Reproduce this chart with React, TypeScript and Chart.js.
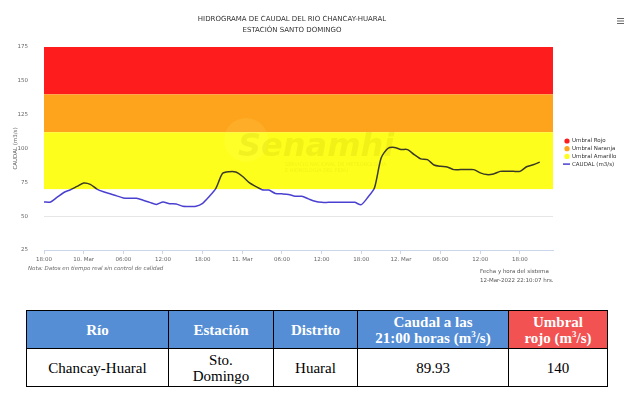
import React, { useEffect, useRef } from 'react';
import { Chart, registerables } from 'chart.js';

Chart.register(...registerables);

// Hour offsets from 9-Mar 18:00 (hourly readings up to 12-Mar 21:00)
const hourOffsets: number[] = [
  0, 1, 2, 3, 4, 5, 6, 7, 8, 9, 10, 11, 12, 13, 14, 15, 16, 17, 18, 19,
  20, 21, 22, 23, 24, 25, 26, 27, 28, 29, 30, 31, 32, 33, 34, 35, 36, 37, 38, 39,
  40, 41, 42, 43, 44, 45, 46, 47, 48, 49, 50, 51, 52, 53, 54, 55, 56, 57, 58, 59,
  60, 61, 62, 63, 64, 65, 66, 67, 68, 69, 70, 71, 72, 73, 74, 75,
];

const caudal: number[] = [
  60.5, 60.5, 64, 67.5, 69.5, 72, 74.5, 73.5, 70, 68,
  66.6, 65, 63.5, 63.3, 63.2, 61.8, 60.2, 58.7, 60.5, 59.2,
  59, 57.3, 57.2, 57.3, 59.5, 64.5, 70.5, 81.5, 82.8, 82.6,
  79.5, 75, 72, 69.5, 69.3, 66.8, 66.5, 66, 64.7, 64.7,
  62.8, 61, 60.2, 60.2, 60.2, 60.2, 60.2, 60.2, 58.5, 64,
  71, 93, 100, 100.8, 99.3, 99.2, 95.5, 92.3, 91.8, 87.8,
  86.8, 86.4, 84.4, 84.4, 84.4, 84.4, 82, 80.7, 81.2, 83.1,
  83.1, 83.1, 83.1, 86.5, 88, 89.93,
];

const xTickPositions: number[] = [0, 6, 12, 18, 24, 30, 36, 42, 48, 54, 60, 66, 72];
const xTickLabels: string[] = [
  '18:00', '10. Mar', '06:00', '12:00', '18:00', '11. Mar', '06:00', '12:00',
  '18:00', '12. Mar', '06:00', '12:00', '18:00',
];
const xMin = 0;
const xMax = 77;

const yTicks: number[] = [25, 50, 75, 100, 125, 150, 175];

const bandNames: string[] = ['Umbral Rojo', 'Umbral Naranja', 'Umbral Amarillo'];
const bandLower: number[] = [140, 112, 70];
const bandUpper: number[] = [175, 140, 112];
const bandColors: string[] = ['#fe1c1c', '#fea41c', '#fefe1c'];

const seriesName = 'CAUDAL (m3/s)';
const lineBlue = '#4a40d0';
const lineDark = '#3a3a26';

const titleLines: string[] = ['HIDROGRAMA DE CAUDAL DEL RIO CHANCAY-HUARAL', 'ESTACIÓN SANTO DOMINGO'];

const tableHeaders: string[] = ['Río', 'Estación', 'Distrito', 'Caudal a las 21:00 horas', 'Umbral rojo'];
const tableRow: string[] = ['Chancay-Huaral', 'Sto. Domingo', 'Huaral', '89.93', '140'];

const FONT = '"DejaVu Sans", Verdana, sans-serif';

const bandsPlugin = {
  id: 'bands',
  beforeDatasetsDraw(chart: any) {
    const { ctx, chartArea, scales } = chart;
    const y = scales.y;
    ctx.save();
    for (let i = 0; i < bandLower.length; i++) {
      const top = y.getPixelForValue(bandUpper[i]);
      const bot = y.getPixelForValue(bandLower[i]);
      ctx.fillStyle = bandColors[i];
      ctx.fillRect(chartArea.left, top, chartArea.right - chartArea.left, bot - top);
    }
    // watermark
    ctx.beginPath();
    ctx.arc(246, 140, 22, 0, Math.PI * 2);
    ctx.fillStyle = 'rgba(255,255,150,0.10)';
    ctx.fill();
    ctx.fillStyle = 'rgba(170,170,0,0.15)';
    ctx.font = 'italic bold 32px "DejaVu Sans", sans-serif';
    ctx.textBaseline = 'alphabetic';
    ctx.textAlign = 'left';
    ctx.fillText('Senamhi', 238, 156);
    ctx.font = '5px "DejaVu Sans", sans-serif';
    ctx.fillText('SERVICIO NACIONAL DE METEOROLOGÍA', 285, 166);
    ctx.fillText('E HIDROLOGÍA DEL PERÚ', 285, 172);
    ctx.restore();
  },
};

const decorPlugin = {
  id: 'decor',
  afterDraw(chart: any) {
    const { ctx } = chart;
    ctx.save();
    // title
    ctx.fillStyle = '#333333';
    ctx.font = `7px ${FONT}`;
    ctx.textAlign = 'center';
    ctx.textBaseline = 'middle';
    ctx.fillText(titleLines[0], 292, 19);
    ctx.fillText(titleLines[1], 292, 30);
    // legend
    ctx.textAlign = 'left';
    ctx.font = `5.5px ${FONT}`;
    const lx = 567;
    const ly = 141;
    const step = 7.7;
    for (let i = 0; i < bandNames.length; i++) {
      ctx.beginPath();
      ctx.arc(lx, ly + i * step, 2.6, 0, Math.PI * 2);
      ctx.fillStyle = bandColors[i];
      ctx.fill();
      ctx.fillStyle = '#333333';
      ctx.fillText(bandNames[i], lx + 5, ly + i * step);
    }
    ctx.strokeStyle = lineBlue;
    ctx.lineWidth = 1.5;
    ctx.beginPath();
    ctx.moveTo(lx - 4, ly + 3 * step);
    ctx.lineTo(lx + 3, ly + 3 * step);
    ctx.stroke();
    ctx.fillStyle = '#333333';
    ctx.fillText(seriesName, lx + 5, ly + 3 * step);
    // menu icon
    ctx.strokeStyle = '#666666';
    ctx.lineWidth = 1;
    for (let k = 0; k < 3; k++) {
      ctx.beginPath();
      ctx.moveTo(617, 18.5 + k * 2.5);
      ctx.lineTo(624, 18.5 + k * 2.5);
      ctx.stroke();
    }
    ctx.restore();
  },
};

function ChartView() {
  const ref = useRef<HTMLCanvasElement | null>(null);
  useEffect(() => {
    if (!ref.current) return;
    const data = hourOffsets.map((h, i) => ({ x: h, y: caudal[i] }));
    const chart = new Chart(ref.current, {
      type: 'line',
      data: {
        datasets: [
          {
            label: seriesName,
            data,
            borderWidth: 1.5,
            pointRadius: 0,
            tension: 0.25,
            borderColor: (c: any) => {
              const ch = c.chart;
              const area = ch.chartArea;
              if (!area) return lineBlue;
              const y70 = ch.scales.y.getPixelForValue(bandLower[2]);
              const t = Math.min(1, Math.max(0, (y70 - area.top) / (area.bottom - area.top)));
              const g = ch.ctx.createLinearGradient(0, area.top, 0, area.bottom);
              g.addColorStop(0, lineDark);
              g.addColorStop(t, lineDark);
              g.addColorStop(t, lineBlue);
              g.addColorStop(1, lineBlue);
              return g;
            },
          },
        ],
      },
      options: {
        animation: false,
        responsive: false,
        layout: { padding: { left: 0, right: 86, top: 47, bottom: 27 } },
        plugins: {
          legend: { display: false },
          tooltip: { enabled: false },
          title: { display: false },
        },
        scales: {
          x: {
            type: 'linear',
            min: xMin,
            max: xMax,
            afterBuildTicks: (s: any) => {
              s.ticks = xTickPositions.map((v) => ({ value: v }));
            },
            afterFit: (s: any) => {
              s.height = 15;
            },
            ticks: {
              autoSkip: false,
              maxRotation: 0,
              color: '#666666',
              font: { family: FONT, size: 5.5 },
              padding: 2,
              callback: (v: any) => {
                const idx = xTickPositions.indexOf(Number(v));
                return idx >= 0 ? xTickLabels[idx] : '';
              },
            },
            grid: { display: true, drawOnChartArea: false, drawTicks: true, tickLength: 4, color: '#ccd6eb' },
            border: { display: true, color: '#ccd6eb' },
          },
          y: {
            type: 'linear',
            min: 25,
            max: 175,
            afterBuildTicks: (s: any) => {
              s.ticks = yTicks.map((v) => ({ value: v }));
            },
            afterFit: (s: any) => {
              s.width = 44;
            },
            ticks: {
              color: '#666666',
              font: { family: FONT, size: 5.5 },
              padding: 16,
            },
            grid: { color: '#e6e6e6', drawTicks: false },
            border: { display: false },
            title: {
              display: true,
              text: seriesName,
              color: '#666666',
              font: { family: FONT, size: 5.5 },
              padding: { top: 12, bottom: 0 },
            },
          },
        },
      },
      plugins: [bandsPlugin, decorPlugin],
    } as any);
    return () => chart.destroy();
  }, []);
  return <canvas ref={ref} width={639} height={292} style={{ display: 'block' }} />;
}

const cellBase: React.CSSProperties = {
  border: '1px solid #000',
  textAlign: 'center',
  verticalAlign: 'middle',
  padding: 0,
  lineHeight: '16px',
  fontWeight: 'normal',
  color: '#000',
};

export default function App() {
  const th: React.CSSProperties = { ...cellBase, background: '#558ed5', color: '#fff', fontWeight: 'bold' };
  return (
    <div style={{ position: 'absolute', left: 0, top: 0, width: 639, height: 397, background: '#fff', overflow: 'hidden' }}>
      <ChartView />
      <div style={{ position: 'absolute', left: 28, top: 265, fontFamily: FONT, fontSize: 5.5, fontStyle: 'italic', color: '#666' }}>
        Nota: Datos en tiempo real sin control de calidad
      </div>
      <div style={{ position: 'absolute', left: 480, top: 267, fontFamily: FONT, fontSize: 5.5, color: '#555', lineHeight: '9px' }}>
        <div>Fecha y hora del sistema</div>
        <div>12-Mar-2022 22:10:07 hrs.</div>
      </div>
      <table
        style={{
          position: 'absolute',
          left: 26,
          top: 310,
          width: 581,
          borderCollapse: 'collapse',
          fontFamily: '"Liberation Serif", "Times New Roman", serif',
          fontSize: 15,
          tableLayout: 'fixed',
        }}
      >
        <colgroup>
          <col style={{ width: 142 }} />
          <col style={{ width: 105 }} />
          <col style={{ width: 84 }} />
          <col style={{ width: 151 }} />
          <col style={{ width: 99 }} />
        </colgroup>
        <tbody>
          <tr style={{ height: 38 }}>
            <td style={th}>{tableHeaders[0]}</td>
            <td style={th}>{tableHeaders[1]}</td>
            <td style={th}>{tableHeaders[2]}</td>
            <td style={th}>
              Caudal a las
              <br />
              21:00 horas (m<sup style={{ fontSize: 9, lineHeight: 0 }}>3</sup>/s)
            </td>
            <td style={{ ...th, background: '#f25252' }}>
              Umbral
              <br />
              rojo (m<sup style={{ fontSize: 9, lineHeight: 0 }}>3</sup>/s)
            </td>
          </tr>
          <tr style={{ height: 38 }}>
            <td style={cellBase}>{tableRow[0]}</td>
            <td style={cellBase}>
              Sto.
              <br />
              Domingo
            </td>
            <td style={cellBase}>{tableRow[2]}</td>
            <td style={cellBase}>{tableRow[3]}</td>
            <td style={cellBase}>{tableRow[4]}</td>
          </tr>
        </tbody>
      </table>
    </div>
  );
}
